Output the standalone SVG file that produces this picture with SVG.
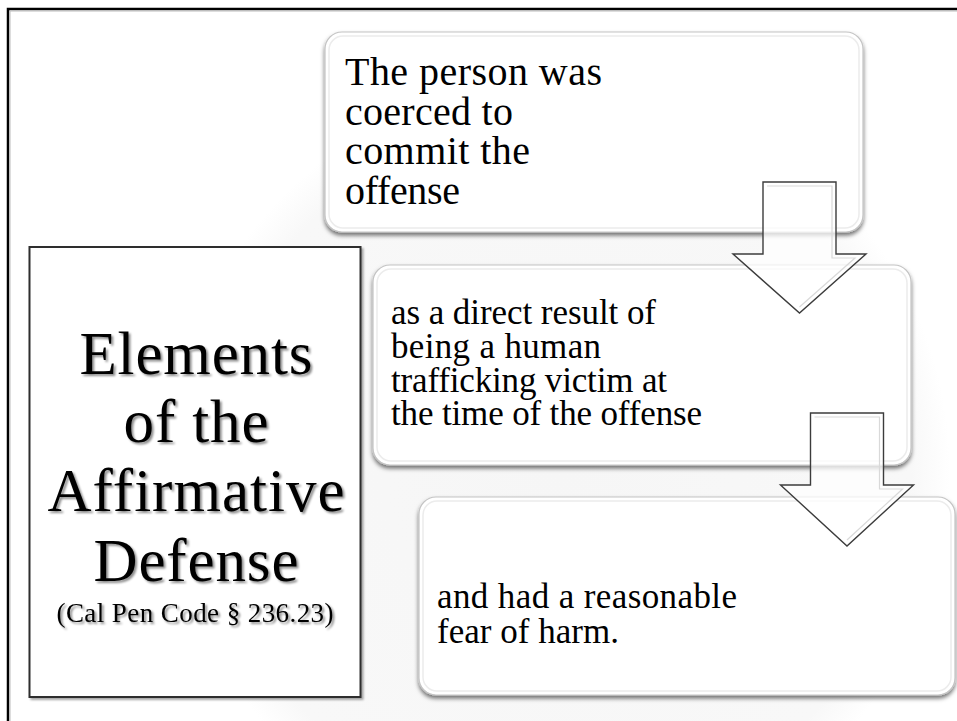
<svg xmlns="http://www.w3.org/2000/svg" width="957" height="721" viewBox="0 0 957 721">
  <defs>
    <filter id="boxShadow" x="-5%" y="-5%" width="110%" height="115%">
      <feDropShadow dx="0" dy="3" stdDeviation="2" flood-color="#000" flood-opacity="0.55"/>
    </filter>
    <filter id="leftShadow" x="-5%" y="-5%" width="110%" height="110%">
      <feDropShadow dx="2" dy="2" stdDeviation="1" flood-color="#000" flood-opacity="0.35"/>
    </filter>
    <filter id="textShadow" x="-10%" y="-20%" width="120%" height="150%">
      <feDropShadow dx="2" dy="2" stdDeviation="1.2" flood-color="#000" flood-opacity="0.45"/>
    </filter>
    <radialGradient id="glow" cx="0.5" cy="0.5" r="0.5">
      <stop offset="0" stop-color="#f6f6f6"/>
      <stop offset="0.9" stop-color="#f8f8f8"/>
      <stop offset="1" stop-color="#ffffff"/>
    </radialGradient>
  </defs>
  <style>
    .box { fill: #ffffff; stroke: #c4c4c4; stroke-width: 1.2; }
    .bevel { fill: none; stroke: #ececec; stroke-width: 1.5; }
    .arrow { fill: #ffffff; fill-opacity: 0.72; stroke: #3c3c3c; stroke-width: 1.4; stroke-linejoin: miter; }
    .arrowBevel { fill: none; stroke: #d9d9d9; stroke-width: 1.2; }
    .t1 { font-family: "Liberation Serif", "Times New Roman", serif; font-size: 40px; fill: #000; }
    .t2 { font-family: "Liberation Serif", "Times New Roman", serif; font-size: 35px; fill: #000; }
    .title { font-family: "Liberation Serif", "Times New Roman", serif; font-size: 61px; fill: #000; text-anchor: middle; }
    .cite { font-family: "Liberation Serif", "Times New Roman", serif; font-size: 27px; fill: #000; text-anchor: middle; }
  </style>

  <rect x="0" y="0" width="957" height="721" fill="#ffffff"/>
  <circle cx="560" cy="470" r="390" fill="url(#glow)"/>

  <!-- outer frame -->
  <path d="M 8 721 V 9 H 957" fill="none" stroke="#000" stroke-width="2.5"/>
  <path d="M 10 721 V 11 H 957" fill="none" stroke="#bbb" stroke-width="1"/>

  <!-- left title box -->
  <g id="title-box">
    <rect x="29.5" y="247" width="331" height="450" fill="#fff" stroke="#2e2e2e" stroke-width="2" filter="url(#leftShadow)"/>
    <g filter="url(#textShadow)">
      <text class="title" x="196" y="374" textLength="233">Elements</text>
      <text class="title" x="196" y="442" textLength="145">of the</text>
      <text class="title" x="196" y="511" textLength="297">Affirmative</text>
      <text class="title" x="196" y="581" textLength="205">Defense</text>
      <text class="cite" x="195" y="622" textLength="277">(Cal Pen Code § 236.23)</text>
    </g>
  </g>

  <!-- step boxes -->
  <g id="step1">
    <rect class="box" x="325" y="32" width="538" height="200" rx="17" filter="url(#boxShadow)"/>
    <rect class="bevel" x="329" y="36" width="530" height="192" rx="14"/>
    <text class="t1" x="345" y="85" textLength="257">The person was</text>
    <text class="t1" x="345" y="124.5" textLength="168">coerced to</text>
    <text class="t1" x="345" y="164" textLength="185">commit the</text>
    <text class="t1" x="345" y="203.5" textLength="115">offense</text>
  </g>

  <g id="step2">
    <rect class="box" x="373" y="265" width="538" height="200" rx="17" filter="url(#boxShadow)"/>
    <rect class="bevel" x="377" y="269" width="530" height="192" rx="14"/>
    <text class="t2" x="391" y="324" textLength="265">as a direct result of</text>
    <text class="t2" x="391" y="357.8" textLength="210">being a human</text>
    <text class="t2" x="391" y="391.6" textLength="276">trafficking victim at</text>
    <text class="t2" x="391" y="425.4" textLength="311">the time of the offense</text>
  </g>

  <g id="step3">
    <rect class="box" x="419" y="497" width="536" height="198" rx="17" filter="url(#boxShadow)"/>
    <rect class="bevel" x="423" y="501" width="528" height="190" rx="14"/>
    <text class="t2" x="437" y="608" textLength="300">and had a reasonable</text>
    <text class="t2" x="437" y="643" textLength="182">fear of harm.</text>
  </g>

  <!-- connectors -->
  <g id="connectors">
    <g id="arrow1">
      <polygon class="arrow" points="763,182 836,182 836,254 866,254 799.5,313 733,254 763,254"/>
      <polyline class="arrowBevel" points="767,186 832,186 832,258 855,258 799.5,307"/>
    </g>
    <g id="arrow2">
      <polygon class="arrow" points="810.5,413 883.5,413 883.5,485 913.5,485 847,546 780.5,485 810.5,485"/>
      <polyline class="arrowBevel" points="814.5,417 879.5,417 879.5,489 902.5,489 847,540"/>
    </g>
  </g>
</svg>
